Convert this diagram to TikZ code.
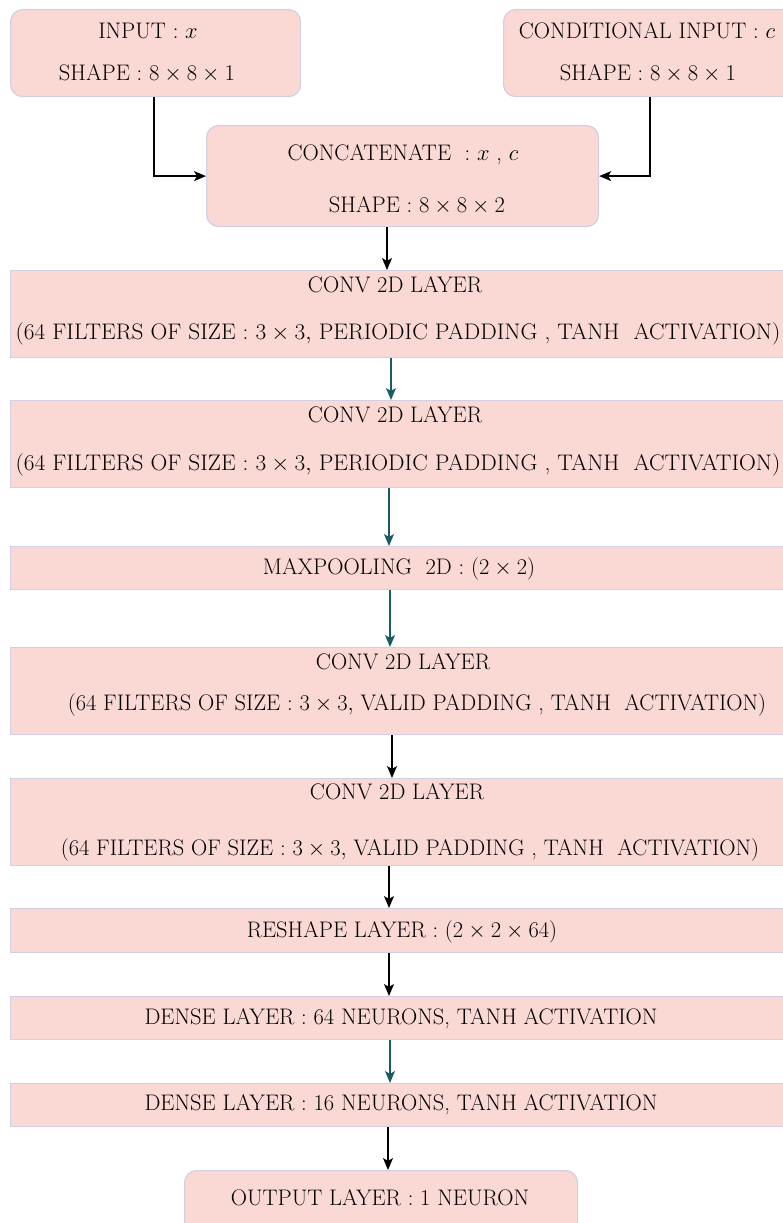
\RequirePackage{fix-cm}
\documentclass[tikz,border=0pt]{standalone}
\usepackage{fontspec}
\usepackage{graphicx}
\usetikzlibrary{arrows.meta}
\definecolor{boxfill}{HTML}{FAD8D4}
\definecolor{boxline}{HTML}{D2CFE4}
\definecolor{tealarr}{HTML}{185C62}
\tikzset{
  layerbox/.style={draw=boxline, fill=boxfill, line width=1.2pt, inner sep=0pt, anchor=north west},
  roundbox/.style={layerbox, rounded corners=12pt},
  lbl/.style={inner sep=0pt, anchor=base, font=\fontsize{22.5}{27}\selectfont},
  arr/.style={line width=1.3pt, -{Stealth[length=12pt,width=10pt,inset=3pt]}},
  arrb/.style={arr, draw=black},
  arrt/.style={arr, draw=tealarr, color=tealarr},
}
\begin{document}
\begin{tikzpicture}[x=1pt,y=-1pt]
\useasboundingbox (0,0) rectangle (782,1223);
% boxes
\node[roundbox, minimum width=290pt, minimum height=87pt] (inp) at (10,9) {};
\node[roundbox, minimum width=292pt, minimum height=87pt] (cond) at (503,9) {};
\node[roundbox, minimum width=392pt, minimum height=101pt] (cat) at (206,125) {};
\node[layerbox, minimum width=780pt, minimum height=87pt] (c1) at (10,270) {};
\node[layerbox, minimum width=780pt, minimum height=87pt] (c2) at (10,400) {};
\node[layerbox, minimum width=780pt, minimum height=43pt] (mp) at (10,546) {};
\node[layerbox, minimum width=780pt, minimum height=87pt] (c3) at (10,647) {};
\node[layerbox, minimum width=780pt, minimum height=87pt] (c4) at (10,778) {};
\node[layerbox, minimum width=780pt, minimum height=44pt] (rs) at (10,908) {};
\node[layerbox, minimum width=780pt, minimum height=43pt] (d1) at (10,996) {};
\node[layerbox, minimum width=780pt, minimum height=43pt] (d2) at (10,1083) {};
\node[roundbox, minimum width=393pt, minimum height=80pt] (out) at (184,1170) {};
% texts
\node[lbl] at (148,38.7) {INPUT : $x$};
\node[lbl] at (147,80.7) {SHAPE : $8\times 8\times 1$};
\node[lbl] at (647,38.7) {CONDITIONAL INPUT : $c$};
\node[lbl] at (648,80.7) {SHAPE : $8\times 8\times 1$};
\node[lbl] at (403,160.7) {CONCATENATE \ : $x$ , $c$};
\node[lbl] at (417,212.7) {SHAPE : $8\times 8\times 2$};
\node[lbl] at (395,292.7) {CONV 2D LAYER};
\node[lbl] at (398,339.7) {\scalebox{1.035}[1]{(64 FILTERS OF SIZE : $3\times 3,$ PERIODIC PADDING , TANH\ \ ACTIVATION)}};
\node[lbl] at (395,422.7) {CONV 2D LAYER};
\node[lbl] at (398,470.7) {\scalebox{1.035}[1]{(64 FILTERS OF SIZE : $3\times 3,$ PERIODIC PADDING , TANH\ \ ACTIVATION)}};
\node[lbl] at (399,574.7) {MAXPOOLING\ \ 2D : $(2\times 2)$};
\node[lbl] at (403,669.7) {CONV 2D LAYER};
\node[lbl] at (417,710.7) {(64 FILTERS OF SIZE : $3\times 3,$ VALID PADDING , TANH\ \ ACTIVATION)};
\node[lbl] at (397,799.7) {CONV 2D LAYER};
\node[lbl] at (410,855.7) {(64 FILTERS OF SIZE : $3\times 3,$ VALID PADDING , TANH\ \ ACTIVATION)};
\node[lbl] at (402,937.7) {RESHAPE LAYER : $(2\times 2\times 64)$};
\node[lbl] at (401,1024.7) {DENSE LAYER : 64 NEURONS, TANH ACTIVATION};
\node[lbl] at (401,1110.7) {DENSE LAYER : 16 NEURONS, TANH ACTIVATION};
\node[lbl] at (380,1205.7) {OUTPUT LAYER : 1 NEURON};
% connectors
\coordinate (x154) at (154,0);
\coordinate (x650) at (650,0);
\coordinate (x387) at (387,0);
\coordinate (x391) at (391,0);
\coordinate (x389) at (389,0);
\coordinate (x390) at (390,0);
\coordinate (x392) at (392,0);
\coordinate (x388) at (388,0);
\draw[arrb] (inp.south -| x154) |- (cat.west);
\draw[arrb] (cond.south -| x650) |- (cat.east);
\draw[arrb] (cat.south -| x387) -- (c1.north -| x387);
\draw[arrt] (c1.south -| x391) -- (c2.north -| x391);
\draw[arrt] (c2.south -| x389) -- (mp.north -| x389);
\draw[arrt] (mp.south -| x390) -- (c3.north -| x390);
\draw[arrb] (c3.south -| x392) -- (c4.north -| x392);
\draw[arrb] (c4.south -| x389) -- (rs.north -| x389);
\draw[arrb] (rs.south -| x389) -- (d1.north -| x389);
\draw[arrt] (d1.south -| x390) -- (d2.north -| x390);
\draw[arrb] (d2.south -| x388) -- (out.north -| x388);
\end{tikzpicture}
\end{document}
